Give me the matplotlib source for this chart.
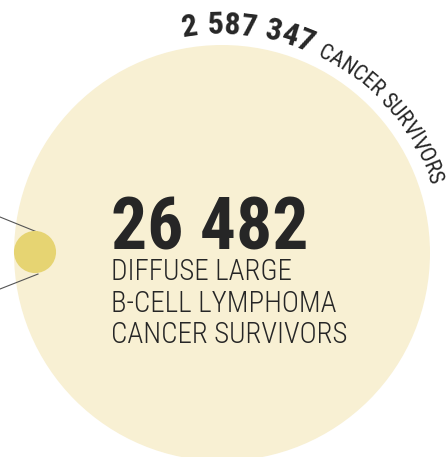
import matplotlib
matplotlib.use("Agg")
import matplotlib.pyplot as plt
from matplotlib.patches import Circle
from matplotlib import font_manager as fm
import numpy as np

# ---- data ----
total_survivors = 2587347
subset_survivors = 26482
total_label = "CANCER SURVIVORS"
subset_label_lines = ["DIFFUSE LARGE", "B-CELL LYMPHOMA", "CANCER SURVIVORS"]


def fmt(n):
    return f"{n:,}".replace(",", " ")


avail = {f.name for f in fm.fontManager.ttflist}
cands = ["Roboto Condensed", "Liberation Sans Narrow", "DejaVu Sans Condensed", "Noto Sans"]
font = next((c for c in cands if c in avail), "DejaVu Sans")

W, H = 446, 457
fig = plt.figure(figsize=(W / 100, H / 100), dpi=100)
ax = fig.add_axes([0, 0, 1, 1])
ax.set_xlim(0, W)
ax.set_ylim(H, 0)
ax.set_aspect("equal")
ax.axis("off")

TXT = "#262626"
cx, cy, R = 222, 253, 208
ax.add_patch(Circle((cx, cy), R, fc="#f8f0d3", ec="none", zorder=1))
r_small = R * np.sqrt(subset_survivors / total_survivors)
scx, scy = 35, 252
ax.add_patch(Circle((scx, scy), r_small, fc="#e6d472", ec="none", zorder=3))

# leader lines
ax.plot([0, scx + 2], [scy - 35, scy - r_small + 1], color="#555555", lw=0.8, zorder=2)
ax.plot([0, scx + 3], [scy + 37, scy + r_small + 1], color="#555555", lw=0.8, zorder=2)

# centre text
ax.text(111, 250, fmt(subset_survivors), fontsize=51.5, fontweight="bold",
        family=font, color=TXT, ha="left", va="baseline", zorder=4)
for i, line in enumerate(subset_label_lines):
    ax.text(111, 280 + i * 31.5, line, fontsize=20.8, fontweight="light", family=font,
            color=TXT, ha="left", va="baseline", zorder=4)

# curved text
renderer = fig.canvas.get_renderer()


def char_w(ch, size, weight):
    t1 = ax.text(0, 0, "|" + ch + "|", fontsize=size, fontweight=weight, family=font)
    t2 = ax.text(0, 0, "||", fontsize=size, fontweight=weight, family=font)
    w = t1.get_window_extent(renderer).width - t2.get_window_extent(renderer).width
    t1.remove(); t2.remove()
    return w


r_arc = 219
# (text, size, weight, start angle, end angle) - angles clockwise from top
segments = [(fmt(total_survivors), 23, "bold", -10.2, 23.8),
            (total_label, 16, "normal", 25.7, 72.0)]
for s, size, weight, a0, a1 in segments:
    widths = [char_w(ch, size, weight) for ch in s]
    target = np.deg2rad(a1 - a0) * r_arc
    track = (target - sum(widths)) / (len(s) - 1)
    theta = np.deg2rad(a0)
    for ch, w in zip(s, widths):
        mid = theta + (w / 2) / r_arc
        x = cx + r_arc * np.sin(mid)
        y = cy - r_arc * np.cos(mid)
        if ch != " ":
            ax.text(x, y, ch, fontsize=size, fontweight=weight, family=font, color=TXT,
                    ha="center", va="baseline", rotation=-np.rad2deg(mid),
                    rotation_mode="anchor", zorder=4)
        theta += (w + track) / r_arc

fig.savefig("out.png", dpi=100)
